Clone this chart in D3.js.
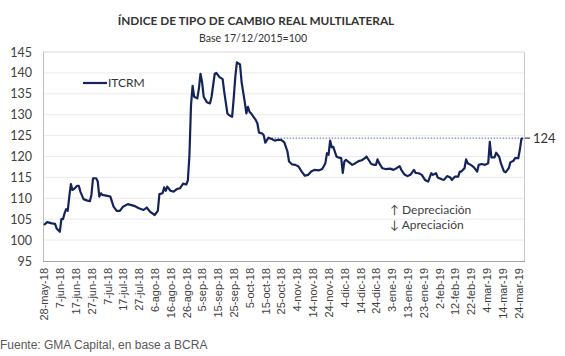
<!DOCTYPE html>
<html><head><meta charset="utf-8">
<script src="https://cdn.jsdelivr.net/npm/d3@7"></script>
<style>body{margin:0;background:#fff}svg{display:block}</style>
</head><body>
<svg id="c" width="565" height="356"></svg>
<script>
const title = "ÍNDICE DE TIPO DE CAMBIO REAL MULTILATERAL";
const subtitle = "Base 17/12/2015=100";
const seriesName = "ITCRM";
const source = "Fuente: GMA Capital, en base a BCRA";
const noteUp = "↑ Depreciación";
const noteDown = "↓ Apreciación";
const refValue = 124.4;
const refLabel = "124";
const refStart = "2018-10-19";
const yTicks = [95,100,105,110,115,120,125,130,135,140,145];
const monthAbbr = ["ene","feb","mar","abr","may","jun","jul","ago","sep","oct","nov","dic"];
const xTickDates = ["2018-05-28","2018-06-07","2018-06-17","2018-06-27","2018-07-07","2018-07-17","2018-07-27","2018-08-06","2018-08-16","2018-08-26","2018-09-05","2018-09-15","2018-09-25","2018-10-05","2018-10-15","2018-10-25","2018-11-04","2018-11-14","2018-11-24","2018-12-04","2018-12-14","2018-12-24","2019-01-03","2019-01-13","2019-01-23","2019-02-02","2019-02-12","2019-02-22","2019-03-04","2019-03-14","2019-03-24"];
const dates = ["2018-05-28","2018-05-30","2018-06-02","2018-06-04","2018-06-05","2018-06-07","2018-06-08","2018-06-09","2018-06-10","2018-06-11","2018-06-12","2018-06-13","2018-06-14","2018-06-15","2018-06-16","2018-06-18","2018-06-19","2018-06-20","2018-06-22","2018-06-24","2018-06-26","2018-06-27","2018-06-28","2018-06-30","2018-07-01","2018-07-02","2018-07-03","2018-07-04","2018-07-07","2018-07-09","2018-07-11","2018-07-13","2018-07-15","2018-07-17","2018-07-20","2018-07-24","2018-07-27","2018-07-30","2018-08-01","2018-08-03","2018-08-06","2018-08-08","2018-08-09","2018-08-11","2018-08-12","2018-08-13","2018-08-14","2018-08-16","2018-08-18","2018-08-20","2018-08-22","2018-08-24","2018-08-26","2018-08-27","2018-08-28","2018-08-29","2018-08-30","2018-08-31","2018-09-02","2018-09-03","2018-09-04","2018-09-05","2018-09-06","2018-09-08","2018-09-10","2018-09-11","2018-09-13","2018-09-14","2018-09-16","2018-09-18","2018-09-19","2018-09-21","2018-09-22","2018-09-24","2018-09-25","2018-09-26","2018-09-27","2018-09-29","2018-09-30","2018-10-02","2018-10-03","2018-10-04","2018-10-05","2018-10-06","2018-10-09","2018-10-10","2018-10-11","2018-10-13","2018-10-14","2018-10-15","2018-10-17","2018-10-19","2018-10-21","2018-10-23","2018-10-25","2018-10-27","2018-10-29","2018-10-30","2018-11-01","2018-11-03","2018-11-05","2018-11-07","2018-11-09","2018-11-11","2018-11-13","2018-11-15","2018-11-18","2018-11-20","2018-11-22","2018-11-23","2018-11-24","2018-11-25","2018-11-26","2018-11-27","2018-11-29","2018-11-30","2018-12-02","2018-12-03","2018-12-04","2018-12-05","2018-12-07","2018-12-09","2018-12-11","2018-12-13","2018-12-15","2018-12-17","2018-12-18","2018-12-20","2018-12-21","2018-12-23","2018-12-24","2018-12-25","2018-12-26","2018-12-28","2018-12-30","2019-01-02","2019-01-04","2019-01-06","2019-01-08","2019-01-09","2019-01-11","2019-01-13","2019-01-15","2019-01-17","2019-01-18","2019-01-20","2019-01-22","2019-01-24","2019-01-26","2019-01-28","2019-01-29","2019-01-31","2019-02-01","2019-02-04","2019-02-05","2019-02-07","2019-02-09","2019-02-10","2019-02-12","2019-02-14","2019-02-15","2019-02-16","2019-02-18","2019-02-19","2019-02-20","2019-02-22","2019-02-24","2019-02-26","2019-02-27","2019-03-01","2019-03-03","2019-03-05","2019-03-06","2019-03-07","2019-03-09","2019-03-10","2019-03-12","2019-03-13","2019-03-15","2019-03-16","2019-03-18","2019-03-19","2019-03-21","2019-03-22","2019-03-24","2019-03-25","2019-03-26","2019-03-27"];
const values = [103.6,104.3,104.0,103.9,102.8,102.0,105.0,105.0,106.4,107.4,107.0,110.4,113.4,112.0,112.2,113.0,113.0,111.6,109.8,109.5,109.3,110.8,114.8,114.8,114.0,110.4,111.2,110.8,110.6,110.4,108.0,107.0,107.0,108.0,108.6,108.2,107.6,107.2,107.8,106.8,106.0,107.0,111.0,111.2,112.6,111.8,112.8,111.8,111.6,112.2,112.4,113.5,113.3,114.3,120.3,132.3,136.9,134.3,133.9,136.3,139.8,137.8,134.3,133.0,132.7,134.3,139.8,140.0,139.0,138.5,135.5,130.3,129.9,129.5,133.9,139.0,142.5,142.0,137.8,133.0,130.3,131.9,130.7,130.3,128.7,127.9,125.7,125.5,125.1,123.3,124.5,124.2,123.8,124.0,124.0,123.4,121.2,118.8,118.1,118.0,117.6,116.4,115.4,115.6,116.4,116.8,116.7,117.0,118.4,120.8,120.4,123.8,122.2,122.3,120.0,119.8,119.6,116.1,118.8,119.2,118.6,118.0,118.4,118.9,119.1,119.6,120.0,118.8,118.2,118.0,118.0,119.3,118.4,117.2,117.0,117.1,116.8,117.2,117.7,116.8,115.7,115.3,115.7,116.8,116.1,116.0,115.6,114.4,114.0,116.0,115.6,116.0,115.0,114.5,114.4,115.3,115.0,114.4,115.2,115.2,116.4,116.4,117.2,119.3,118.4,118.0,117.4,116.4,118.0,118.2,118.0,118.4,123.5,119.8,119.8,120.9,119.9,118.4,116.4,116.2,117.2,118.6,119.0,119.6,119.6,121.6,124.2,124.4];

const parse = d3.timeParse("%Y-%m-%d");
const data = dates.map((d,i)=>({date:parse(d), value:values[i]}));
const fmtTick = d => d.getDate() + "-" + monthAbbr[d.getMonth()] + "-" + String(d.getFullYear()).slice(2);

const svg = d3.select("#c");
const L = 43, R = 524, T = 52, B = 261;
const x = d3.scaleTime().domain([parse("2018-05-28"), parse("2019-03-27")]).range([L+1, R-1]);
const y = d3.scaleLinear().domain([95,145]).range([B, T]);

// gridlines
svg.append("g").selectAll("line").data(yTicks.filter(v=>v>95)).join("line")
  .attr("x1", L).attr("x2", R).attr("y1", d=>y(d)).attr("y2", d=>y(d))
  .attr("stroke", d=> d===145 ? "#d9d9d9" : "#ececec").attr("stroke-width", 1);

// plot border left / right
svg.append("line").attr("x1",L+0.5).attr("x2",L+0.5).attr("y1",T).attr("y2",B).attr("stroke","#bfbfbf");
svg.append("line").attr("x1",R+0.5).attr("x2",R+0.5).attr("y1",T).attr("y2",B).attr("stroke","#c8c8c8");

// y axis
const yAxis = svg.append("g").attr("transform",`translate(${L},0)`)
  .call(d3.axisLeft(y).tickValues(yTicks).tickSize(0).tickPadding(11).tickFormat(d3.format("d")));
yAxis.select(".domain").remove();
yAxis.selectAll("text").attr("font-family","Lato, sans-serif").attr("font-size","12.5px").attr("fill","#404040");

// x axis
const xAxis = svg.append("g").attr("transform",`translate(0,${B})`)
  .call(d3.axisBottom(x).tickValues(xTickDates.map(parse)).tickSize(0).tickFormat(fmtTick));
xAxis.select(".domain").attr("stroke","#a6a6a6").attr("stroke-width",1.2).attr("d",`M${L},0.5H${R+1}`);
xAxis.selectAll("text")
  .attr("font-family","'Liberation Sans', Arial, sans-serif").attr("font-size","11px").attr("fill","#404040")
  .attr("text-anchor","end").attr("transform","rotate(-90)")
  .attr("x",-7).attr("y",0).attr("dy","0.35em");

// reference dotted line
svg.append("line").attr("x1", x(parse(refStart))).attr("x2", R).attr("y1", y(refValue)).attr("y2", y(refValue))
  .attr("stroke","#4a6fb5").attr("stroke-width",1).attr("stroke-dasharray","1.5,1.5");
svg.append("line").attr("x1", R+1).attr("x2", R+6).attr("y1", y(refValue)).attr("y2", y(refValue))
  .attr("stroke","#404040").attr("stroke-width",1.2);
svg.append("text").attr("x", R+9).attr("y", y(refValue)).attr("dy","0.35em")
  .attr("font-family","Lato, sans-serif").attr("font-size","13px").attr("fill","#333").text(refLabel);

// series line
svg.append("path").datum(data)
  .attr("fill","none").attr("stroke","#14245a").attr("stroke-width",2.2).attr("stroke-linejoin","round")
  .attr("d", d3.line().x(d=>x(d.date)).y(d=>y(d.value)));

// legend
svg.append("line").attr("x1",83).attr("x2",107).attr("y1",83).attr("y2",83).attr("stroke","#14245a").attr("stroke-width",2.2);
svg.append("text").attr("x",108).attr("y",83).attr("dy","0.35em")
  .attr("font-family","Lato, sans-serif").attr("font-size","12px").attr("fill","#333").text(seriesName);

// notes
svg.append("text").attr("x",390).attr("y",214).attr("font-family","Lato, sans-serif").attr("font-size","12px").attr("fill","#404040").text(noteUp);
svg.append("text").attr("x",390).attr("y",229).attr("font-family","Lato, sans-serif").attr("font-size","12px").attr("fill","#404040").text(noteDown);

// titles
svg.append("text").attr("x",256).attr("y",25).attr("text-anchor","middle")
  .attr("font-family","Lato, sans-serif").attr("font-weight","bold").attr("font-size","11.8px").attr("fill","#333").text(title);
svg.append("text").attr("x",253).attr("y",42).attr("text-anchor","middle")
  .attr("font-family","Lato, sans-serif").attr("font-size","10.6px").attr("fill","#333").text(subtitle);

// source
svg.append("text").attr("x",0).attr("y",349)
  .attr("font-family","'Liberation Sans', Arial, sans-serif").attr("font-size","12px").attr("fill","#595959").text(source);
</script>
</body></html>
